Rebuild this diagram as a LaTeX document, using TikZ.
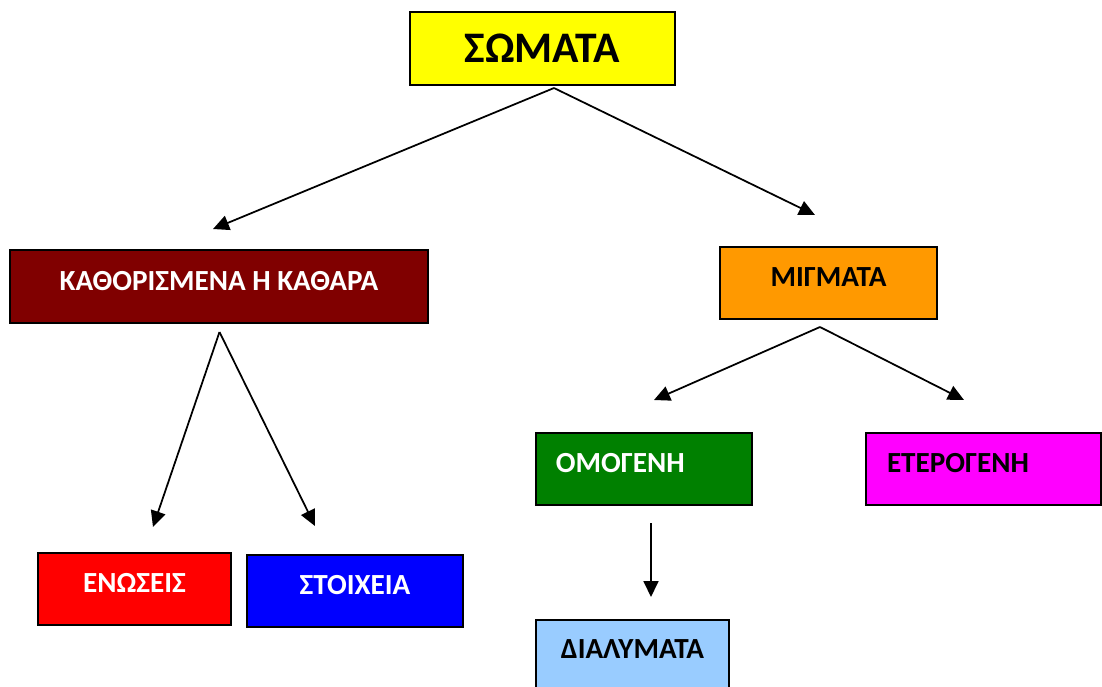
\documentclass[tikz,border=0pt]{standalone}
\usepackage{fontspec}
\setmainfont{Carlito}
\usetikzlibrary{arrows.meta}

\definecolor{kitrino}{RGB}{255,255,0}
\definecolor{kafe}{HTML}{800000}
\definecolor{portokali}{HTML}{FF9900}
\definecolor{prasino}{HTML}{008000}
\definecolor{mov}{RGB}{255,0,255}
\definecolor{kokkino}{RGB}{255,0,0}
\definecolor{ble}{RGB}{0,0,255}
\definecolor{galazio}{HTML}{99CCFF}

\begin{document}
\begin{tikzpicture}[x=1mm,y=1mm]
\tikzstyle{every node}+=[inner sep=0pt]
\tikzstyle{kouti}=[draw=black, line width=0.6pt, minimum height=7.2mm, text depth=1.2mm, font=\fontsize{8.3}{10}\selectfont\bfseries]
\tikzstyle{aristera}=[align=left, inner xsep=2mm]
\tikzstyle{velos}=[black, line width=0.5pt, -{Triangle[length=1.6mm,width=1.5mm]}]
\useasboundingbox (0,0) rectangle (110.2,-68.6);
\node [kouti, fill=kitrino, minimum width=26.5mm, minimum height=7.3mm, text depth=0pt, font=\fontsize{12.4}{14}\selectfont\bfseries] (somata) at (54.25,-4.85) {ΣΩΜΑΤΑ};
\node [kouti, fill=kafe, text=white, minimum width=41.8mm, minimum height=7.3mm] (kathara) at (21.9,-28.65) {ΚΑΘΟΡΙΣΜΕΝΑ Η ΚΑΘΑΡΑ};
\node [kouti, fill=portokali, minimum width=21.7mm] (migmata) at (82.85,-28.3) {ΜΙΓΜΑΤΑ};
\node [kouti, aristera, fill=prasino, text=white, text width=17.6mm] (omogeni) at (64.4,-46.9) {ΟΜΟΓΕΝΗ};
\node [kouti, aristera, fill=mov, text width=19.3mm, inner xsep=2.1mm] (eterogeni) at (98.35,-46.9) {ΕΤΕΡΟΓΕΝΗ};
\node [kouti, fill=kokkino, text=white, minimum width=19.3mm] (enoseis) at (13.45,-58.9) {ΕΝΩΣΕΙΣ};
\node [kouti, fill=ble, text=white, minimum width=21.6mm] (stoixeia) at (35.5,-59.1) {ΣΤΟΙΧΕΙΑ};
\node [kouti, fill=galazio, minimum width=19.3mm, text depth=1.4mm] (dialymata) at (63.25,-65.6) {ΔΙΑΛΥΜΑΤΑ};
% akres ton velon
\coordinate (apoSomata) at (55.4,-8.8);
\coordinate (proKathara) at (21.3,-22.9);
\coordinate (proMigmata) at (81.5,-21.5);
\coordinate (apoKathara) at (21.95,-33.2);
\coordinate (proEnoseis) at (15.3,-52.7);
\coordinate (proStoixeia) at (31.5,-52.6);
\coordinate (apoMigmata) at (82.0,-32.7);
\coordinate (proOmogeni) at (65.4,-40.0);
\coordinate (proEterogeni) at (96.4,-40.0);
\coordinate (apoOmogeni) at (65.1,-52.3);
\coordinate (proDialymata) at (65.1,-59.7);
\draw [velos] (apoSomata) -- (proKathara);
\draw [velos] (apoSomata) -- (proMigmata);
\draw [velos] (apoKathara) -- (proEnoseis);
\draw [velos] (apoKathara) -- (proStoixeia);
\draw [velos] (apoMigmata) -- (proOmogeni);
\draw [velos] (apoMigmata) -- (proEterogeni);
\draw [velos] (apoOmogeni) -- (proDialymata);
\end{tikzpicture}
\end{document}
